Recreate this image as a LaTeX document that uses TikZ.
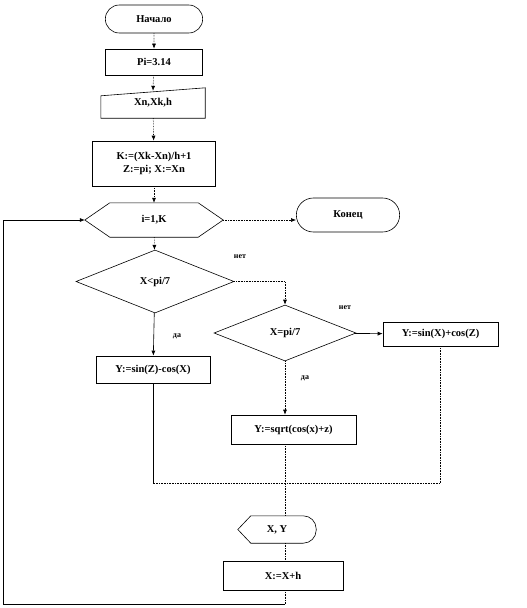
\documentclass[tikz,border=0pt]{standalone}
\usepackage{fontspec}
\setmainfont{Liberation Serif}
\usetikzlibrary{shapes,arrows.meta,positioning,calc}

\begin{document}
\begin{tikzpicture}[
  x=1pt, y=-1pt,
  every node/.style={font=\fontsize{10.5}{12.5}\selectfont\bfseries},
  term/.style={rounded rectangle, draw, line width=0.6pt},
  proc/.style={rectangle, draw, line width=0.6pt, align=center},
  cond/.style={diamond, draw, line width=0.6pt, inner sep=0pt},
  ghost/.style={rectangle, inner sep=0pt},
  lbl/.style={font=\fontsize{8}{9}\selectfont\bfseries},
  arrow/.style={-{Latex[length=5pt,width=4pt]}, densely dotted, line width=0.6pt},
  wire/.style={line width=0.6pt}
]
\useasboundingbox (0,0) rectangle (527,608);

% Top of the chart
\node[term, minimum width=104pt, minimum height=28pt] (start) at (154,19) {Начало};
\node[proc, minimum width=97pt, minimum height=26pt] (pi) at (154,62) {Pi=3.14};
\node[ghost, minimum width=104pt, minimum height=30pt] (input) at (153,103) {Xn,Xk,h};
\draw[wire] (input.south west) -- (input.south east) -- (input.north east)
  -- ($(input.north west)+(0,8)$) -- cycle;
\node[proc, minimum width=123pt, minimum height=45pt] (init) at (154,163.5) {K:=(Xk-Xn)/h+1\\Z:=pi; X:=Xn};

% Loop head and end
\node[ghost, minimum width=138pt, minimum height=34pt] (loop) at (154,220) {i=1,K};
\draw[wire] (loop.west) -- ($(loop.north west)+(25,0)$) -- ($(loop.north east)+(-25,0)$)
  -- (loop.east) -- ($(loop.south east)+(-25,0)$) -- ($(loop.south west)+(25,0)$) -- cycle;
\node[term, minimum width=110pt, minimum height=34pt] (stop) at (348,215) {Конец};

% Conditions
\node[cond, minimum width=158pt, minimum height=63pt] (cond1) at (155,281.5) {X<pi/7};
\node[cond, minimum width=142pt, minimum height=56pt] (cond2) at (285,333) {X=pi/7};
\node[lbl] (no1) at (240,257) {нет};
\node[lbl] (yes1) at (177,336) {да};
\node[lbl] (no2) at (345,308) {нет};
\node[lbl] (yes2) at (305,378) {да};

% Branches
\node[proc, minimum width=115pt, minimum height=24pt] (ygt) at (440.5,334) {Y:=sin(X)+cos(Z)};
\node[proc, minimum width=114pt, minimum height=27pt] (ylt) at (153,369.5) {Y:=sin(Z)-cos(X)};
\node[proc, minimum width=125pt, minimum height=29pt] (yeq) at (293.5,429.5) {Y:=sqrt(cos(x)+z)};
\coordinate (join) at (0,483);

% Output and step
\node[ghost, minimum width=78pt, minimum height=27pt] (out) at (277,529.5) {X, Y};
\draw[wire] (out.west) -- ($(out.north west)+(13,0)$) [rounded corners=13pt] -- (out.north east)
  -- (out.south east) [sharp corners] -- ($(out.south west)+(13,0)$) -- cycle;
\node[proc, minimum width=120pt, minimum height=29pt] (step) at (283,575.5) {X:=X+h};
\coordinate (back) at (3,604);

% Connections
\draw[arrow] (start) -- (pi);
\draw[arrow] (pi) -- ($(input.north)+(0,3)$);
\draw[arrow] (input) -- (init);
\draw[arrow] (init) -- (loop);
\draw[arrow] (loop) -- (cond1);
\draw[arrow] (loop.east) -- (loop.east -| stop.west);
\draw[arrow] (cond1.east) -| (cond2.north);
\draw[arrow, solid] (cond1) -- (ylt);
\draw[arrow, solid] (cond2) -- (ygt);
\draw[arrow] (cond2) -- (cond2.south |- yeq.north);
\draw[wire] (ylt.south) -- (ylt.south |- join);
\draw[wire, densely dotted] (ygt.south) |- (ylt.south |- join);
\draw[wire, densely dotted] (cond2.south |- yeq.south) -- (cond2.south |- out.north);
\draw[wire, densely dotted] (cond2.south |- out.south) -- (cond2.south |- step.north);
\draw[wire, densely dotted] (cond2.south |- step.south) -- (cond2.south |- back);
\draw[arrow, solid] (cond2.south |- back) -- (back) |- (loop.west);

\end{tikzpicture}
\end{document}
